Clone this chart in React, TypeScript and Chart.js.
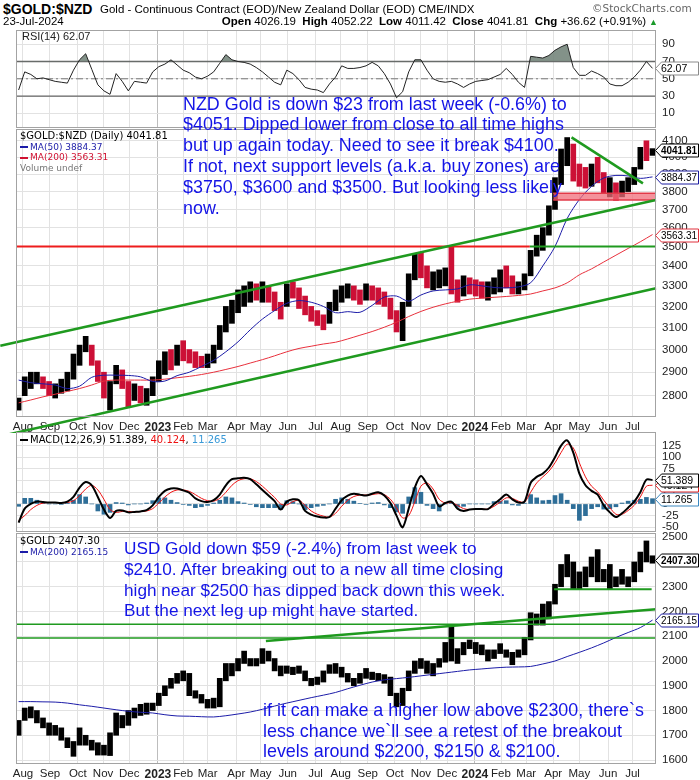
import React, { useEffect, useRef } from 'react';
import { Chart, registerables } from 'chart.js';

Chart.register(...registerables);

const FONT = '"Liberation Sans", Arial, Helvetica, sans-serif';
const DJ = '"DejaVu Sans", Verdana, sans-serif';
const DAY_MS = 86400000;

// ---------- time axis ----------
const firstWeek = '2022-07-27';
const xStart = '2022-07-24';
const xEnd = '2024-07-28';
const monthTickDates = [
  '2022-08-01', '2022-09-01', '2022-10-03', '2022-11-01', '2022-12-01', '2023-01-03',
  '2023-02-01', '2023-03-01', '2023-04-03', '2023-05-01', '2023-06-01', '2023-07-03',
  '2023-08-01', '2023-09-01', '2023-10-02', '2023-11-01', '2023-12-01', '2024-01-02',
  '2024-02-01', '2024-03-01', '2024-04-01', '2024-05-01', '2024-06-03', '2024-07-01',
];
const monthTickLabels = [
  'Aug', 'Sep', 'Oct', 'Nov', 'Dec', '2023', 'Feb', 'Mar', 'Apr', 'May', 'Jun', 'Jul',
  'Aug', 'Sep', 'Oct', 'Nov', 'Dec', '2024', 'Feb', 'Mar', 'Apr', 'May', 'Jun', 'Jul',
];

// ---------- $GOLD:$NZD weekly bars ----------
const nzdLow = [
  2740, 2800, 2830, 2850, 2830, 2800, 2790, 2810, 2820, 2870,
  2930, 2990, 2930, 2860, 2790, 2740, 2850, 2830, 2750, 2780,
  2770, 2760, 2800, 2860, 2890, 2910, 2930, 2950, 2940, 2920,
  2920, 2920, 2940, 3000, 3080, 3120, 3170, 3200, 3220, 3230,
  3220, 3220, 3180, 3140, 3200, 3240, 3190, 3160, 3130, 3110,
  3090, 3120, 3180, 3220, 3240, 3230, 3210, 3230, 3230, 3210,
  3200, 3140, 3080, 3040, 3200, 3330, 3340, 3290, 3280, 3290,
  3300, 3260, 3220, 3250, 3260, 3250, 3240, 3230, 3260, 3270,
  3290, 3260, 3260, 3280, 3350, 3450, 3480, 3560, 3700, 3840,
  3950, 3860, 3830, 3820, 3830, 3850, 3790, 3770, 3750, 3770,
  3800, 3840, 3930, 3980, 4011.42,
];
const nzdHigh = [
  2790, 2880, 2900, 2900, 2880, 2860, 2850, 2870, 2900, 2980,
  3020, 3060, 3020, 2950, 2900, 2860, 2930, 2910, 2860, 2850,
  2840, 2830, 2880, 2950, 2990, 3000, 3020, 3040, 3000, 2990,
  2970, 2980, 3020, 3110, 3200, 3230, 3280, 3300, 3320, 3310,
  3320, 3300, 3270, 3220, 3310, 3320, 3290, 3250, 3200, 3180,
  3160, 3220, 3280, 3300, 3310, 3300, 3280, 3310, 3300, 3290,
  3270, 3240, 3180, 3220, 3360, 3460, 3470, 3400, 3370, 3380,
  3390, 3500, 3330, 3350, 3340, 3330, 3320, 3320, 3340, 3380,
  3400, 3350, 3320, 3360, 3480, 3560, 3600, 3720, 3880, 4050,
  4120, 4080, 3960, 3940, 3960, 4000, 3910, 3880, 3850, 3860,
  3880, 3940, 4060, 4100, 4052.22,
];
const nzdClose = [
  2780, 2850, 2870, 2870, 2850, 2820, 2830, 2840, 2880, 2960,
  3000, 3040, 2950, 2880, 2820, 2830, 2900, 2850, 2790, 2820,
  2800, 2810, 2870, 2930, 2960, 2950, 2990, 2970, 2960, 2950,
  2940, 2950, 3000, 3080, 3150, 3200, 3250, 3260, 3280, 3270,
  3280, 3250, 3200, 3180, 3280, 3270, 3220, 3190, 3150, 3130,
  3110, 3200, 3250, 3270, 3280, 3260, 3250, 3290, 3260, 3230,
  3220, 3170, 3100, 3200, 3340, 3420, 3380, 3320, 3330, 3340,
  3360, 3290, 3280, 3320, 3300, 3290, 3280, 3300, 3310, 3350,
  3330, 3280, 3300, 3340, 3460, 3520, 3580, 3700, 3850, 4000,
  4080, 3900, 3880, 3860, 3900, 3880, 3820, 3830, 3790, 3820,
  3850, 3920, 4040, 4010, 4041.81,
];
// moving averages, sampled every second week
const nzdMA50 = [
  2866, 2855, 2850, 2845, 2830, 2840, 2878, 2887, 2887, 2886, 2880, 2860, 2862,
  2885, 2900, 2925, 2952, 2990, 3035, 3090, 3140, 3180, 3215, 3228, 3220, 3200,
  3170, 3175, 3172, 3205, 3245, 3250, 3225, 3255, 3275, 3280, 3285, 3305, 3300,
  3292, 3290, 3295, 3315, 3400, 3500, 3650, 3755, 3830, 3878, 3893, 3890, 3876, 3884.37,
];
const nzdMA200 = [
  2770, 2782, 2795, 2806, 2818, 2830, 2845, 2862, 2866, 2866, 2866, 2866, 2870,
  2876, 2882, 2890, 2900, 2912, 2925, 2940, 2955, 2972, 2990, 3005, 3015, 3025,
  3033, 3048, 3065, 3082, 3102, 3125, 3152, 3176, 3196, 3212, 3225, 3235, 3240,
  3244, 3248, 3253, 3260, 3275, 3290, 3315, 3355, 3385, 3420, 3455, 3490, 3525, 3563.31,
];
const nzdTicks = [2800, 2900, 3000, 3100, 3200, 3300, 3400, 3500, 3600, 3700, 3800, 3900, 4000, 4100];
const nzdUpperChannel: [string, number][] = [['2022-07-06', 3017], ['2024-07-28', 3752]];
const nzdLowerChannel: [string, number][] = [['2022-07-06', 2635], ['2024-07-28', 3288]];
const nzdDownTrend: [string, number][] = [['2024-04-22', 4121], ['2024-07-13', 3847]];
const nzdRedLevel: [string, number][] = [['2022-07-24', 3500], ['2024-03-05', 3500]];
const nzdGreenLevel: [string, number][] = [['2024-03-05', 3500], ['2024-07-28', 3500]];
const nzdZoneLow: [string, number][] = [['2024-04-01', 3752], ['2024-07-28', 3752]];
const nzdZoneHigh: [string, number][] = [['2024-04-01', 3790], ['2024-07-28', 3790]];

// ---------- RSI(14) ----------
const rsiValues = [
  37, 58, 55, 50, 51, 49, 47, 46, 45, 60,
  72, 79, 61, 43, 36, 32, 56, 47, 36, 47,
  46, 45, 58, 64, 67, 72, 66, 60, 57, 52,
  50, 53, 58, 68, 78, 72, 70, 69, 67, 63,
  58, 52, 46, 43, 60, 56, 49, 40, 38, 37,
  34, 44, 52, 65, 62, 62, 63, 65, 69, 65,
  56, 44, 28, 35, 58, 72, 72, 60, 50, 47,
  46, 47, 44, 40, 44, 47, 48, 49, 52, 55,
  62, 55, 46, 40, 76, 75, 74, 77, 83, 87,
  90, 63, 54, 54, 59, 56, 52, 44, 42, 42,
  46, 52, 60, 70, 62.07,
];
const rsiTicks = [10, 30, 50, 70, 90];
const rsiLevels = [70, 50, 30];

// ---------- MACD(12,26,9) ----------
const macdLine = [
  -40, -10, 0, 5, 4, 3, 3, 2, 5, 15,
  35, 47, 40, 15, -12, -30, -15, -14, -18, -17,
  -16, -13, -3, 15, 28, 33, 33, 29, 24, 12,
  6, 4, 8, 20, 40, 53, 55, 56, 53, 42,
  30, 18, 6, -12, 5, 10, 8, -15, -23, -27,
  -29, -28, -10, 8, 18, 22, 20, 18, 22, 25,
  18, 2, -25, -50, -10, 35, 60, 42, 22, -5,
  2, 5, -10, -15, -12, -11, -11, -11, 0, 10,
  20, 10, 3, 5, 45, 58, 65, 78, 100, 125,
  136, 110, 65, 40, 28, 20, -3, -18, -28, -20,
  -8, 5, 25, 52, 51.389,
];
const macdSignal = [
  -35, -25, -12, -3, 2, 3, 3, 3, 3, 7,
  18, 32, 40, 30, 10, -12, -18, -16, -16, -17,
  -16, -15, -10, 2, 15, 25, 30, 30, 27, 20,
  12, 7, 6, 12, 25, 40, 50, 54, 54, 48,
  38, 26, 14, 0, -2, 5, 8, -3, -15, -22,
  -26, -28, -20, -5, 8, 16, 19, 19, 20, 22,
  20, 10, -8, -30, -25, 5, 38, 45, 32, 10,
  2, 3, -3, -10, -12, -11, -11, -11, -5, 4,
  13, 12, 6, 4, 25, 45, 58, 70, 88, 110,
  128, 120, 88, 58, 38, 26, 8, -8, -22, -22,
  -14, -3, 15, 38, 40.124,
];
const macdHist = [
  -5, 12, 12, 8, 2, 0, 0, -1, 2, 8,
  20, 15, 0, -15, -22, -18, 3, 2, -2, 0,
  0, 2, 7, 13, 13, 8, 3, -1, -3, -8,
  -6, -3, 2, 8, 15, 13, 5, 2, -1, -6,
  -8, -8, -8, -12, 7, 5, 0, -12, -8, -5,
  -3, 0, 10, 13, 10, 6, 1, -1, 2, 3,
  -2, -8, -17, -20, 15, 35, 25, -3, -10, -15,
  0, 2, -7, -5, 0, 0, 0, 0, 5, 6,
  7, -2, -3, 1, 20, 13, 7, 8, 18, 22,
  8, -10, -35, -25, -10, -6, -11, -10, -6, 2,
  6, 8, 10, 14, 11.265,
];
const macdTicks = [-50, -25, 0, 25, 50, 75, 100, 125];

// ---------- $GOLD (USD) ----------
const usdLow = [
  1700, 1760, 1770, 1750, 1730, 1700, 1700, 1680, 1650, 1615,
  1660, 1660, 1640, 1620, 1620, 1618, 1700, 1730, 1740, 1770,
  1780, 1785, 1800, 1820, 1860, 1890, 1910, 1920, 1860, 1850,
  1830, 1810, 1810, 1815, 1920, 1940, 1960, 1990, 1980, 1980,
  1990, 2000, 1960, 1940, 1950, 1945, 1950, 1920, 1900, 1905,
  1915, 1950, 1950, 1935, 1915, 1900, 1910, 1930, 1925, 1920,
  1910, 1860, 1815, 1820, 1880, 1950, 1970, 1950, 1940, 1975,
  1995, 2000, 1990, 2025, 2050, 2030, 2025, 2000, 2010, 2030,
  2015, 1985, 2015, 2025, 2085, 2145, 2145, 2170, 2230, 2300,
  2340, 2290, 2290, 2300, 2340, 2320, 2320, 2290, 2300, 2310,
  2300, 2320, 2360, 2400, 2395,
];
const usdHigh = [
  1760, 1810, 1815, 1800, 1770, 1750, 1740, 1730, 1690, 1675,
  1730, 1700, 1680, 1670, 1660, 1710, 1790, 1780, 1800, 1810,
  1825, 1830, 1830, 1870, 1900, 1930, 1950, 1960, 1950, 1880,
  1865, 1845, 1850, 1930, 1990, 1990, 2010, 2040, 2010, 2010,
  2050, 2040, 2010, 1980, 1980, 1975, 1980, 1960, 1930, 1935,
  1960, 1985, 1990, 1975, 1950, 1930, 1950, 1970, 1955, 1950,
  1945, 1935, 1870, 1890, 1960, 2000, 2010, 2000, 1990, 2010,
  2075, 2145, 2050, 2075, 2085, 2075, 2065, 2045, 2045, 2070,
  2045, 2035, 2045, 2095, 2195, 2190, 2230, 2240, 2310, 2390,
  2430, 2400, 2360, 2380, 2420, 2450, 2370, 2390, 2340, 2370,
  2340, 2400, 2440, 2485, 2425,
];
const usdMA200 = [
  1836, 1836, 1835, 1834, 1830, 1823, 1817, 1810, 1803, 1797, 1793, 1790, 1783,
  1778, 1777, 1775, 1774, 1779, 1786, 1794, 1805, 1818, 1830, 1841, 1852, 1862,
  1873, 1888, 1902, 1915, 1924, 1929, 1934, 1940, 1946, 1952, 1958, 1964, 1968,
  1972, 1975, 1976, 1978, 1988, 2000, 2018, 2035, 2053, 2073, 2095, 2115, 2135, 2165.15,
];
const usdTicks = [1600, 1700, 1800, 1900, 2000, 2100, 2200, 2300, 2400, 2500];
const usdSupport2300: [string, number][] = [['2024-04-02', 2290], ['2024-07-23', 2290]];
const usdRisingLine: [string, number][] = [['2023-05-07', 2081], ['2024-07-28', 2209]];
const usdLevel2150: [string, number][] = [['2022-07-24', 2148], ['2024-07-28', 2148]];
const usdLevel2100: [string, number][] = [['2022-07-24', 2093], ['2024-07-28', 2093]];

// ---------- right-edge value tags ----------
const rsiTags = [{ value: 62.07, label: '62.07', color: '#8a8a8a', bold: false }];
const nzdTags = [
  { value: 3563.31, label: '3563.31', color: '#e0303c', bold: false },
  { value: 3884.37, label: '3884.37', color: '#1c1ca0', bold: false },
  { value: 4041.81, label: '4041.81', color: '#000000', bold: true },
];
const macdTags = [
  { value: 11.265, label: '11.265', color: '#3a88c0', bold: false },
  { value: 40.124, label: '40.124', color: '#e02020', bold: false },
  { value: 51.389, label: '51.389', color: '#000000', bold: false },
];
const usdTags = [
  { value: 2165.15, label: '2165.15', color: '#1c1ca0', bold: false },
  { value: 2407.3, label: '2407.30', color: '#000000', bold: true },
];

// ---------- colours ----------
const GREEN = '#1f9a1f';
const RED_LINE = '#ee1c1c';
const NAVY = '#1c1ca8';
const MA200_RED = '#e8303c';
const BAR_RED = '#cc1036';
const BLUE_TEXT = '#1414e6';

// ---------- helpers ----------
const weekX = (i: number) => Date.parse(firstWeek) + i * 7 * DAY_MS;
const seg = (pairs: [string, number][]) => pairs.map(([d, v]) => ({ x: Date.parse(d), y: v }));
const everyOtherWeek = (vals: number[]) => vals.map((v, k) => ({ x: weekX(2 * k), y: v }));
const weekly = (vals: number[]) => vals.map((v, i) => ({ x: weekX(i), y: v }));
const floating = (lo: number[], hi: number[]) => lo.map((l, i) => ({ x: weekX(i), y: [l, hi[i]] }));

function lineDs(data: any[], color: string, width: number, extra: any = {}) {
  return {
    type: 'line', data, borderColor: color, borderWidth: width, pointRadius: 0,
    fill: false, tension: 0, clip: false, ...extra,
  };
}

const framePlugin = {
  id: 'frame',
  afterDraw(chart: any, _args: any, opts: any) {
    const { ctx, chartArea: a } = chart;
    ctx.save();
    ctx.strokeStyle = '#a3a3a3';
    ctx.lineWidth = 1;
    ctx.strokeRect(Math.round(a.left) + 0.5, Math.round(a.top) + 0.5,
      Math.round(a.right - a.left) - 1, Math.round(a.bottom - a.top) - 1);
    const ys = chart.scales.y;
    (opts.tags || []).forEach((t: any) => {
      const py = Math.round(ys.getPixelForValue(t.value)) + 0.5;
      const x0 = Math.round(a.right) - 0.5;
      const h = 13;
      ctx.beginPath();
      ctx.moveTo(x0, py);
      ctx.lineTo(x0 + 6, py - h / 2);
      ctx.lineTo(698.5, py - h / 2);
      ctx.lineTo(698.5, py + h / 2);
      ctx.lineTo(x0 + 6, py + h / 2);
      ctx.closePath();
      ctx.fillStyle = '#ffffff';
      ctx.fill();
      ctx.strokeStyle = t.color;
      ctx.lineWidth = 1;
      ctx.stroke();
      ctx.fillStyle = '#000';
      ctx.font = `${t.bold ? 'bold ' : ''}10.5px ${FONT}`;
      ctx.textBaseline = 'middle';
      ctx.textAlign = 'left';
      ctx.fillText(t.label, x0 + 5.5, py + 0.5, 36);
    });
    ctx.restore();
  },
};

function panelOptions(p: {
  yType: string; yMin: number; yMax: number; yTicks: number[]; showX: boolean;
  padTop: number; padBottom: number; tags: any[];
}) {
  return {
    responsive: false,
    animation: false,
    events: [],
    layout: { padding: { left: 16, right: 0, top: p.padTop, bottom: p.padBottom }, autoPadding: false },
    plugins: { legend: { display: false }, tooltip: { enabled: false }, frame: { tags: p.tags } },
    scales: {
      x: {
        type: 'linear',
        bounds: 'data',
        offset: false,
        min: Date.parse(xStart),
        max: Date.parse(xEnd),
        afterBuildTicks: (s: any) => { s.ticks = monthTickDates.map((d) => ({ value: Date.parse(d) })); },
        afterFit: (s: any) => { s.height = p.showX ? 16 : 0; s.paddingLeft = 0; s.paddingRight = 0; },
        ticks: {
          display: p.showX,
          autoSkip: false,
          maxRotation: 0,
          minRotation: 0,
          padding: 3,
          color: '#222',
          font: (c: any) => ({ family: FONT, size: monthTickLabels[c.index]?.length === 4 ? 12 : 11.5, weight: monthTickLabels[c.index]?.length === 4 ? 'bold' : 'normal' }),
          callback: (_v: any, i: number) => monthTickLabels[i],
        },
        grid: {
          offset: false,
          drawTicks: false,
          color: (c: any) => (monthTickLabels[c.index]?.length === 4 ? '#bdbdbd' : '#e2e2e2'),
        },
        border: { display: false },
      },
      y: {
        type: p.yType,
        position: 'right',
        bounds: 'data',
        beginAtZero: false,
        min: p.yMin,
        max: p.yMax,
        afterBuildTicks: (s: any) => { s.ticks = p.yTicks.map((v) => ({ value: v })); },
        afterFit: (s: any) => { s.width = 44; s.paddingTop = 0; s.paddingBottom = 0; },
        ticks: {
          autoSkip: false,
          padding: 6,
          color: '#222',
          font: { family: FONT, size: 11.5 },
          callback: (v: any) => String(v),
        },
        grid: { drawTicks: false, color: '#e2e2e2' },
        border: { display: false },
      },
    },
  };
}

export default function App() {
  const rsiRef = useRef<HTMLCanvasElement | null>(null);
  const nzdRef = useRef<HTMLCanvasElement | null>(null);
  const macdRef = useRef<HTMLCanvasElement | null>(null);
  const usdRef = useRef<HTMLCanvasElement | null>(null);

  useEffect(() => {
    const charts: Chart[] = [];
    const rsiFillColor = 'rgba(118,134,124,0.9)';

    charts.push(new Chart(rsiRef.current as HTMLCanvasElement, {
      type: 'line',
      data: {
        datasets: [
          lineDs(weekly(rsiValues), '#222', 1, {
            fill: { target: { value: 70 }, above: rsiFillColor, below: 'rgba(0,0,0,0)' },
          }),
          lineDs(weekly(rsiValues), 'rgba(0,0,0,0)', 0, {
            fill: { target: { value: 30 }, above: 'rgba(0,0,0,0)', below: rsiFillColor },
          }),
          ...rsiLevels.map((lv) => lineDs(seg([[xStart, lv], [xEnd, lv]]), lv === 50 ? '#777' : '#666', lv === 50 ? 1 : 1.3,
            lv === 50 ? { borderDash: [7, 3, 2, 3], clip: true } : { clip: true })),
        ],
      },
      options: panelOptions({ yType: 'linear', yMin: -7, yMax: 106.5, yTicks: rsiTicks, showX: false, padTop: 2, padBottom: 1, tags: rsiTags }),
      plugins: [framePlugin],
    } as any));

    const nzdColors = nzdClose.map((c, i) => (i > 0 && c < nzdClose[i - 1] ? BAR_RED : '#000'));
    charts.push(new Chart(nzdRef.current as HTMLCanvasElement, {
      type: 'line',
      data: {
        datasets: [
          lineDs(seg(nzdUpperChannel), GREEN, 2.5),
          lineDs(seg(nzdLowerChannel), GREEN, 2.5),
          lineDs(seg(nzdDownTrend), GREEN, 2.5),
          lineDs(seg(nzdRedLevel), RED_LINE, 2),
          lineDs(seg(nzdGreenLevel), GREEN, 2),
          lineDs(seg(nzdZoneLow), '#e23a48', 1.5),
          lineDs(seg(nzdZoneHigh), '#e23a48', 1.5, { fill: '-1', backgroundColor: 'rgba(240,110,122,0.75)' }),
          lineDs(everyOtherWeek(nzdMA50), NAVY, 1, { tension: 0.3 }),
          lineDs(everyOtherWeek(nzdMA200), MA200_RED, 1, { tension: 0.3 }),
          {
            type: 'bar', data: floating(nzdLow, nzdHigh), backgroundColor: nzdColors,
            barThickness: 5, borderWidth: 0,
          },
        ],
      },
      options: panelOptions({ yType: 'logarithmic', yMin: 2712, yMax: 4173, yTicks: nzdTicks, showX: true, padTop: 2, padBottom: 0, tags: nzdTags }),
      plugins: [framePlugin],
    } as any));

    charts.push(new Chart(macdRef.current as HTMLCanvasElement, {
      type: 'line',
      data: {
        datasets: [
          lineDs(weekly(macdLine), '#000', 2, { tension: 0.3, clip: true }),
          lineDs(weekly(macdSignal), '#ee1111', 1, { tension: 0.3, clip: true }),
          { type: 'bar', data: weekly(macdHist), backgroundColor: '#2e6e98', barThickness: 4, borderWidth: 0 },
        ],
      },
      options: panelOptions({ yType: 'linear', yMin: -60, yMax: 154, yTicks: macdTicks, showX: false, padTop: 2, padBottom: 2, tags: macdTags }),
      plugins: [framePlugin],
    } as any));

    charts.push(new Chart(usdRef.current as HTMLCanvasElement, {
      type: 'line',
      data: {
        datasets: [
          lineDs(seg(usdRisingLine), GREEN, 2.5),
          lineDs(seg(usdSupport2300), GREEN, 2),
          lineDs(seg(usdLevel2150), GREEN, 1.5),
          lineDs(seg(usdLevel2100), GREEN, 1.5),
          lineDs(everyOtherWeek(usdMA200), NAVY, 1, { tension: 0.3 }),
          { type: 'bar', data: floating(usdLow, usdHigh), backgroundColor: '#000', barThickness: 5, borderWidth: 0 },
        ],
      },
      options: panelOptions({ yType: 'linear', yMin: 1584, yMax: 2517, yTicks: usdTicks, showX: true, padTop: 2, padBottom: 0, tags: usdTags }),
      plugins: [framePlugin],
    } as any));

    return () => charts.forEach((c) => c.destroy());
  }, []);

  const abs = (left: number, top: number, extra: React.CSSProperties = {}): React.CSSProperties => ({
    position: 'absolute', left, top, whiteSpace: 'nowrap', ...extra,
  });
  const dash = (color: string): React.CSSProperties => ({
    display: 'inline-block', width: 8, height: 2, background: color, verticalAlign: 'middle', marginRight: 2,
  });
  const note: React.CSSProperties = { fontFamily: FONT, fontSize: 17.9, color: BLUE_TEXT, lineHeight: '20.8px' };

  return (
    <div style={{ position: 'absolute', left: 0, top: 0, width: 700, height: 780, background: '#fff', overflow: 'hidden' }}>
      <canvas ref={rsiRef} width={700} height={101} style={{ position: 'absolute', left: 0, top: 28 }} />
      <canvas ref={nzdRef} width={700} height={306} style={{ position: 'absolute', left: 0, top: 127 }} />
      <canvas ref={macdRef} width={700} height={104} style={{ position: 'absolute', left: 0, top: 430 }} />
      <canvas ref={usdRef} width={700} height={249} style={{ position: 'absolute', left: 0, top: 531 }} />

      {/* header */}
      <div style={abs(3, 1, { fontFamily: FONT, fontSize: 14, fontWeight: 'bold', color: '#000' })}>$GOLD:$NZD</div>
      <div style={abs(100, 3, { fontFamily: FONT, fontSize: 11.5, color: '#000' })}>
        Gold - Continuous Contract (EOD)/New Zealand Dollar (EOD) CME/INDX
      </div>
      <div style={abs(3, 15, { fontFamily: FONT, fontSize: 11.5, color: '#000' })}>23-Jul-2024</div>
      <div style={{ position: 'absolute', right: 42, top: 15, fontFamily: FONT, fontSize: 11.5, color: '#000', whiteSpace: 'nowrap' }}>
        <b>Open</b> 4026.19 &nbsp;<b>High</b> 4052.22 &nbsp;<b>Low</b> 4011.42 &nbsp;<b>Close</b> 4041.81 &nbsp;<b>Chg</b> +36.62 (+0.91%)
        <span style={{ color: '#1a9a2a', fontSize: 9, marginLeft: 3 }}>▲</span>
      </div>
      <div style={abs(592, 2, { fontFamily: DJ, fontSize: 10.5, color: '#666' })}>©StockCharts.com</div>

      {/* panel legends */}
      <div style={abs(22, 30, { fontFamily: FONT, fontSize: 11, color: '#222' })}>RSI(14) 62.07</div>
      <div style={abs(20, 131, { fontFamily: DJ, fontSize: 10, color: '#000', lineHeight: '10.5px' })}>
        <div>$GOLD:$NZD (Daily) 4041.81</div>
        <div style={{ color: NAVY, fontSize: 9 }}><span style={dash(NAVY)} />MA(50) 3884.37</div>
        <div style={{ color: '#d01030', fontSize: 9 }}><span style={dash('#d01030')} />MA(200) 3563.31</div>
        <div style={{ color: '#777', fontSize: 9 }}>Volume undef</div>
      </div>
      <div style={abs(20, 434, { fontFamily: DJ, fontSize: 10, color: '#000' })}>
        <span style={dash('#000')} />MACD(12,26,9) 51.389, <span style={{ color: '#ee1111' }}>40.124</span>, <span style={{ color: '#3a9ad8' }}>11.265</span>
      </div>
      <div style={abs(20, 535, { fontFamily: DJ, fontSize: 10, color: '#000', lineHeight: '11.5px' })}>
        <div>$GOLD 2407.30</div>
        <div style={{ color: NAVY, fontSize: 9 }}><span style={dash(NAVY)} />MA(200) 2165.15</div>
      </div>

      {/* annotations */}
      <div style={abs(183, 93.6, note)}>
        <div>NZD Gold is down $23 from last week (-0.6%) to</div>
        <div>$4051. Dipped lower from close to all time highs</div>
        <div>but up again today. Need to see it break $4100.</div>
        <div>If not, next support levels (a.k.a. buy zones) are</div>
        <div>$3750, $3600 and $3500. But looking less likely</div>
        <div>now.</div>
      </div>
      <div style={abs(124, 538, { ...note, fontSize: 17.2 })}>
        <div>USD Gold down $59 (-2.4%) from last week to</div>
        <div>$2410. After breaking out to a new all time closing</div>
        <div>high near $2500 has dipped back down this week.</div>
        <div>But the next leg up might have started.</div>
      </div>
      <div style={abs(263, 700, { ...note, lineHeight: '20.5px' })}>
        <div>if it can make a higher low above $2300, there`s</div>
        <div>less chance we`ll see a retest of the breakout</div>
        <div>levels around $2200, $2150 &amp; $2100.</div>
      </div>
    </div>
  );
}
